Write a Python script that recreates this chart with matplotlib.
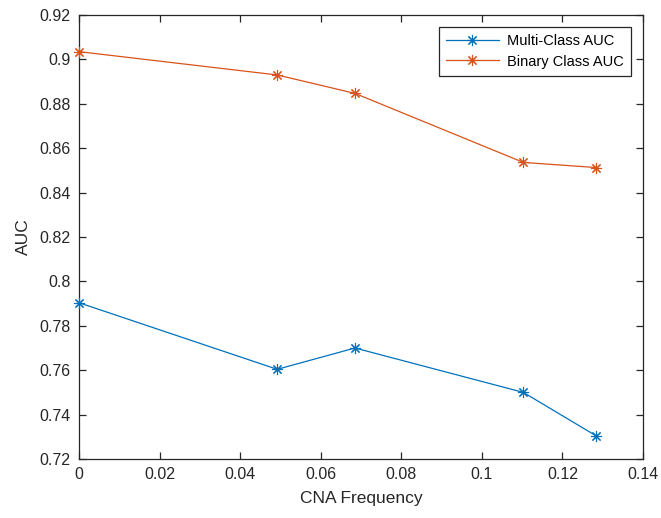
import matplotlib.pyplot as plt
import numpy as np
from matplotlib.ticker import FuncFormatter

# data
cna_freq = [0.0, 0.0492, 0.0685, 0.1103, 0.1283]
multi_auc = [0.7904, 0.7604, 0.7700, 0.7500, 0.7305]
binary_auc = [0.9035, 0.8930, 0.8847, 0.8536, 0.8513]

x_ticks = np.arange(0, 0.1401, 0.02)
y_ticks = np.arange(0.72, 0.9201, 0.02)

plt.rcParams['font.family'] = ['Liberation Sans', 'DejaVu Sans']

fig = plt.figure(figsize=(6.61, 5.18), dpi=100)
ax = fig.add_axes([0.1195, 0.1139, 0.8533, 0.8571])

star = (8, 2, 0)
ax.plot(cna_freq, multi_auc, color='#0072BD', lw=0.9, marker=star,
        markersize=8, markeredgewidth=0.8, label='Multi-Class AUC',
        clip_on=False, zorder=3)
ax.plot(cna_freq, binary_auc, color='#D95319', lw=0.9, marker=star,
        markersize=8, markeredgewidth=0.8, label='Binary Class AUC',
        clip_on=False, zorder=3)

ax.set_xlim(0, 0.14)
ax.set_ylim(0.72, 0.92)
ax.set_xticks(x_ticks)
ax.set_yticks(y_ticks)
fmt = FuncFormatter(lambda v, p: '%g' % round(v, 4))
ax.xaxis.set_major_formatter(fmt)
ax.yaxis.set_major_formatter(fmt)

edge = '#262626'
for s in ax.spines.values():
    s.set_color(edge)
    s.set_linewidth(0.9)
ax.tick_params(direction='in', top=True, right=True, length=5, width=0.9,
               color=edge, labelcolor='#262626', labelsize=11.5, pad=6)

ax.set_xlabel('CNA Frequency', fontsize=12.5, color='#262626', labelpad=6)
ax.set_ylabel('AUC', fontsize=12.5, color='#262626', labelpad=6)

leg = ax.legend(loc='upper right', fontsize=10.5, fancybox=False, framealpha=1,
                edgecolor='#262626', borderaxespad=0.8, handlelength=3.6,
                labelspacing=0.45, borderpad=0.5, handletextpad=0.6)
leg.get_frame().set_linewidth(0.9)

plt.savefig('out.png', format='png', dpi=100)
